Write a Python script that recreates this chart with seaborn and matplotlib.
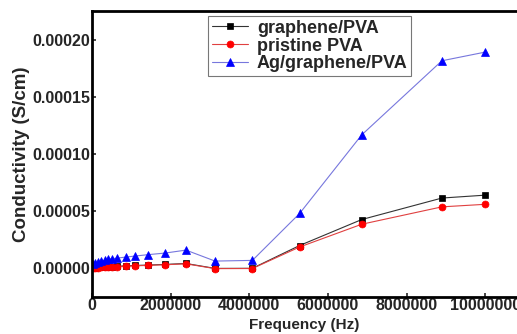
import matplotlib
matplotlib.use("Agg")
import matplotlib.pyplot as plt
import seaborn as sns
import pandas as pd
from matplotlib.ticker import FormatStrFormatter

# Frequencies (Hz)
freq = [20000, 70000, 150000, 240000, 320000, 410000, 510000, 640000,
        860000, 1100000, 1420000, 1860000, 2390000, 3130000, 4080000,
        5280000, 6860000, 8900000, 9990000]

# Conductivity (S/cm)
graphene_pva = [0.2e-6, 0.5e-6, 0.8e-6, 1.0e-6, 1.2e-6, 1.4e-6, 1.6e-6, 1.9e-6,
                2.2e-6, 2.6e-6, 2.9e-6, 3.5e-6, 4.3e-6, 0.0e-6, 0.1e-6,
                2.0e-5, 4.27e-5, 6.15e-5, 6.4e-5]
pristine_pva = [0.0e-6, 0.3e-6, 0.6e-6, 0.8e-6, 1.0e-6, 1.2e-6, 1.4e-6, 1.6e-6,
                1.9e-6, 2.3e-6, 2.6e-6, 3.2e-6, 4.0e-6, -0.2e-6, -0.1e-6,
                1.87e-5, 3.86e-5, 5.38e-5, 5.6e-5]
ag_graphene_pva = [3.5e-6, 4.6e-6, 5.5e-6, 6.4e-6, 7.0e-6, 7.9e-6, 8.5e-6, 9.0e-6,
                   9.9e-6, 1.08e-5, 1.2e-5, 1.34e-5, 1.6e-5, 6.4e-6, 7.0e-6,
                   4.8e-5, 1.167e-4, 1.815e-4, 1.89e-4]

labels = ["graphene/PVA", "pristine PVA", "Ag/graphene/PVA"]

sns.set_theme(style="white")
plt.rcParams["font.family"] = ["Liberation Sans", "DejaVu Sans"]

fig = plt.figure(figsize=(5.17, 3.34), dpi=100)
ax = fig.add_axes([92 / 517, 37 / 334, 1 - 92 / 517, 286 / 334])

df = pd.DataFrame({"freq": freq, "g": graphene_pva, "p": pristine_pva, "a": ag_graphene_pva})

# Series styling: (column, label, line colour, marker colour, marker, size)
series = [
    ("g", labels[0], "#333333", "black", "s", 4.5),
    ("p", labels[1], "#e04040", "red", "o", 5),
    ("a", labels[2], "#7777dd", "blue", "^", 5.5),
]
for col, lab, lc, mc, mk, ms in series:
    sns.lineplot(
        data=df, x="freq", y=col, ax=ax, label=lab,
        color=lc, linewidth=0.8, marker=mk, markersize=ms,
        markerfacecolor=mc, markeredgecolor=mc, markeredgewidth=0.5,
        sort=False,
    )

ax.set_xlim(0, 10.81e6)
ax.set_ylim(-2.5e-5, 2.25e-4)
ax.set_xticks([0, 2000000, 4000000, 6000000, 8000000, 10000000])
ax.set_yticks([0, 0.00005, 0.0001, 0.00015, 0.0002])
ax.ticklabel_format(axis="x", style="plain")
ax.yaxis.set_major_formatter(FormatStrFormatter("%.5f"))

ax.tick_params(axis="both", labelsize=11.5, direction="in", length=3, width=1.2,
               pad=1, left=True, bottom=True)
for t in ax.get_xticklabels() + ax.get_yticklabels():
    t.set_fontweight("bold")

for side in ["left", "top", "bottom"]:
    ax.spines[side].set_linewidth(2)
    ax.spines[side].set_color("black")
ax.spines["right"].set_visible(False)

ax.set_xlabel("Frequency (Hz)", fontsize=11, fontweight="bold", labelpad=3)
ax.set_ylabel("Conductivity (S/cm)", fontsize=13.5, fontweight="bold", labelpad=2)

leg = ax.legend(
    loc="upper left", bbox_to_anchor=(208 / 517, 1 - 16 / 334),
    bbox_transform=fig.transFigure, frameon=True, fancybox=False,
    edgecolor="#555555", handlelength=2.0, handletextpad=0.5,
    borderpad=0.2, labelspacing=0.05, borderaxespad=0,
    prop={"weight": "bold", "size": 13},
)
leg.get_frame().set_linewidth(0.8)

fig.savefig("out.png", dpi=100)
plt.close(fig)
